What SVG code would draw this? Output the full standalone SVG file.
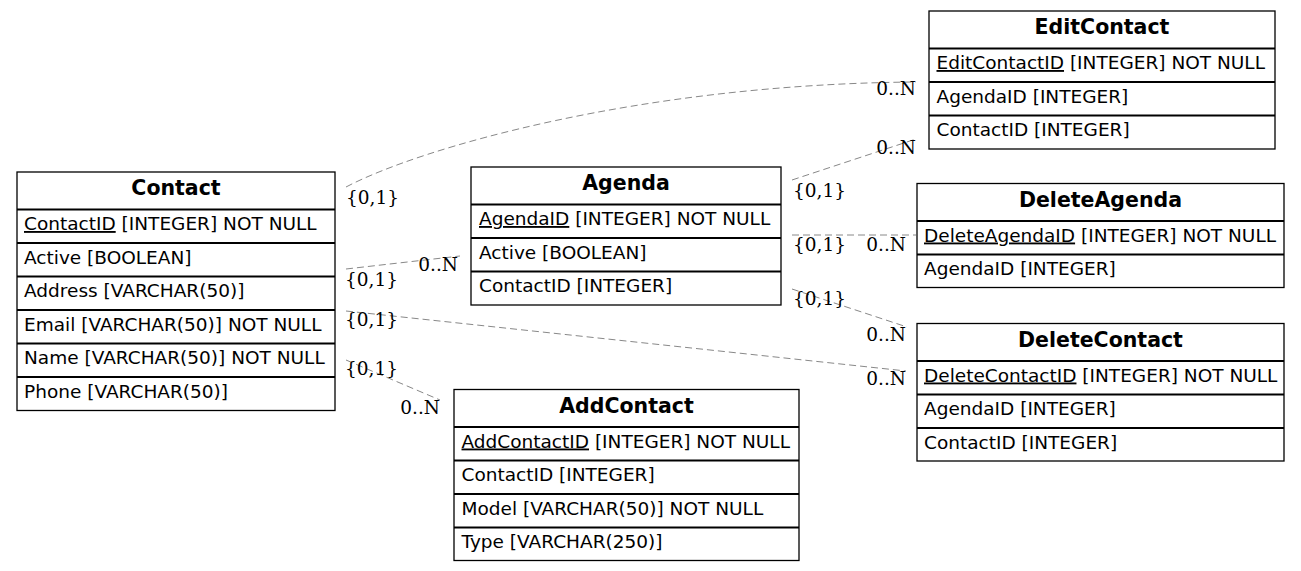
<svg xmlns="http://www.w3.org/2000/svg" width="1301" height="571" viewBox="0 0 1301 571">
<style>
.bg{fill:#ffffff}
.box{fill:#ffffff;stroke:#000000;stroke-width:1.3}
.sep{stroke:#000000;stroke-width:1.8}
.t{font-family:"DejaVu Sans",sans-serif;font-size:20.5px;font-weight:bold;text-anchor:middle;fill:#000}
.r{font-family:"DejaVu Sans",sans-serif;font-size:18.5px;fill:#000}
.pk{text-decoration:underline}
.l{font-family:"DejaVu Serif",serif;font-size:18.5px;fill:#000}
.le{text-anchor:end}
.e{fill:none;stroke:#888888;stroke-width:1;stroke-dasharray:7,4}
</style>
<rect class="bg" x="0" y="0" width="1301" height="571"/>
<g id="connectors">
<path class="e" d="M346,187 C420,148 640,84 916,82"/>
<path class="e" d="M346,269 L460,256"/>
<path class="e" d="M346,311 L906,371"/>
<path class="e" d="M346,360 L440,400"/>
<path class="e" d="M792,180 L916,139"/>
<path class="e" d="M792,235 L916,235"/>
<path class="e" d="M792,289 L907,327"/>
<text class="l" x="346" y="204">{0,1}</text>
<text class="l le" x="916" y="95">0..N</text>
<text class="l" x="345" y="286">{0,1}</text>
<text class="l le" x="458" y="271">0..N</text>
<text class="l" x="345" y="326">{0,1}</text>
<text class="l le" x="906" y="385">0..N</text>
<text class="l" x="345" y="375">{0,1}</text>
<text class="l le" x="440" y="414">0..N</text>
<text class="l" x="793" y="197">{0,1}</text>
<text class="l le" x="916" y="154">0..N</text>
<text class="l" x="793" y="251">{0,1}</text>
<text class="l le" x="906" y="251">0..N</text>
<text class="l" x="793" y="305">{0,1}</text>
<text class="l le" x="906" y="341">0..N</text>
</g>
<g id="Contact">
<rect class="box" x="17" y="172" width="318" height="238.5"/>
<line class="sep" x1="17" y1="209.5" x2="335" y2="209.5"/>
<line class="sep" x1="17" y1="243" x2="335" y2="243"/>
<line class="sep" x1="17" y1="276.5" x2="335" y2="276.5"/>
<line class="sep" x1="17" y1="310" x2="335" y2="310"/>
<line class="sep" x1="17" y1="343.5" x2="335" y2="343.5"/>
<line class="sep" x1="17" y1="377" x2="335" y2="377"/>
<text class="t" x="176" y="195">Contact</text>
<text class="r" x="24" y="230">
<tspan class="pk">ContactID</tspan> [INTEGER] NOT NULL</text>
<text class="r" x="24" y="263.5">Active [BOOLEAN]</text>
<text class="r" x="24" y="297">Address [VARCHAR(50)]</text>
<text class="r" x="24" y="330.5">Email [VARCHAR(50)] NOT NULL</text>
<text class="r" x="24" y="364">Name [VARCHAR(50)] NOT NULL</text>
<text class="r" x="24" y="397.5">Phone [VARCHAR(50)]</text>
</g>
<g id="Agenda">
<rect class="box" x="471" y="167" width="310" height="138"/>
<line class="sep" x1="471" y1="204.5" x2="781" y2="204.5"/>
<line class="sep" x1="471" y1="238" x2="781" y2="238"/>
<line class="sep" x1="471" y1="271.5" x2="781" y2="271.5"/>
<text class="t" x="626" y="190">Agenda</text>
<text class="r" x="479" y="225"><tspan class="pk">AgendaID</tspan> [INTEGER] NOT NULL</text>
<text class="r" x="479" y="258.5">Active [BOOLEAN]</text>
<text class="r" x="479" y="292">ContactID [INTEGER]</text>
</g>
<g id="EditContact">
<rect class="box" x="929" y="11" width="346" height="138"/>
<line class="sep" x1="929" y1="48.5" x2="1275" y2="48.5"/>
<line class="sep" x1="929" y1="82" x2="1275" y2="82"/>
<line class="sep" x1="929" y1="115.5" x2="1275" y2="115.5"/>
<text class="t" x="1102" y="34">EditContact</text>
<text class="r" x="936.5" y="69"><tspan class="pk">EditContactID</tspan> [INTEGER] NOT NULL</text>
<text class="r" x="936.5" y="102.5">AgendaID [INTEGER]</text>
<text class="r" x="936.5" y="136">ContactID [INTEGER]</text>
</g>
<g id="DeleteAgenda">
<rect class="box" x="917" y="183.5" width="367" height="104"/>
<line class="sep" x1="917" y1="221" x2="1284" y2="221"/>
<line class="sep" x1="917" y1="254.5" x2="1284" y2="254.5"/>
<text class="t" x="1100.5" y="206.5">DeleteAgenda</text>
<text class="r" x="924" y="241.5"><tspan class="pk">DeleteAgendaID</tspan> [INTEGER] NOT NULL</text>
<text class="r" x="924" y="275">AgendaID [INTEGER]</text>
</g>
<g id="DeleteContact">
<rect class="box" x="917" y="323.5" width="367" height="137.5"/>
<line class="sep" x1="917" y1="361" x2="1284" y2="361"/>
<line class="sep" x1="917" y1="394.5" x2="1284" y2="394.5"/>
<line class="sep" x1="917" y1="428" x2="1284" y2="428"/>
<text class="t" x="1100.5" y="346.5">DeleteContact</text>
<text class="r" x="924" y="381.5"><tspan class="pk">DeleteContactID</tspan> [INTEGER] NOT NULL</text>
<text class="r" x="924" y="415">AgendaID [INTEGER]</text>
<text class="r" x="924" y="448.5">ContactID [INTEGER]</text>
</g>
<g id="AddContact">
<rect class="box" x="454" y="389.5" width="345" height="171"/>
<line class="sep" x1="454" y1="427" x2="799" y2="427"/>
<line class="sep" x1="454" y1="460.5" x2="799" y2="460.5"/>
<line class="sep" x1="454" y1="494" x2="799" y2="494"/>
<line class="sep" x1="454" y1="527.5" x2="799" y2="527.5"/>
<text class="t" x="626.5" y="412.5">AddContact</text>
<text class="r" x="461.5" y="447.5"><tspan class="pk">AddContactID</tspan> [INTEGER] NOT NULL</text>
<text class="r" x="461.5" y="481">ContactID [INTEGER]</text>
<text class="r" x="461.5" y="514.5">Model [VARCHAR(50)] NOT NULL</text>
<text class="r" x="461.5" y="548">Type [VARCHAR(250)]</text>
</g>
</svg>
